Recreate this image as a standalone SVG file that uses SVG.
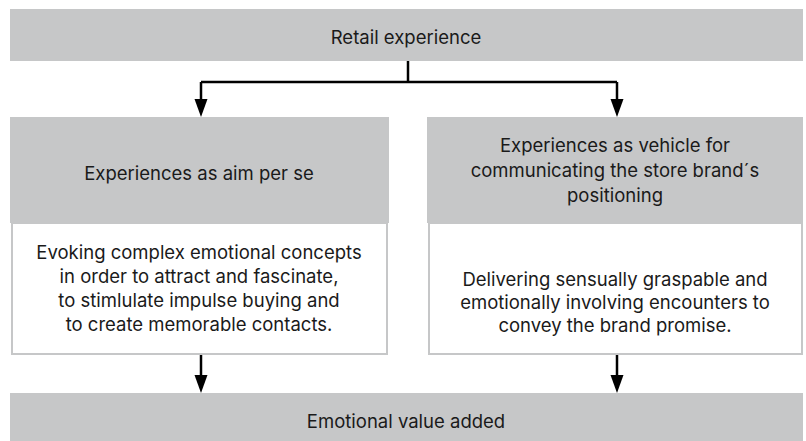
<svg xmlns="http://www.w3.org/2000/svg" width="806" height="441" viewBox="0 0 806 441">
<style>
.g{fill:#c6c7c8}
.w{fill:#ffffff;stroke:#c6c7c8;stroke-width:2}
text{font-family:Inter,"Open Sans","Liberation Sans",sans-serif;font-size:18.5px;fill:#1a1a1a;text-anchor:middle}
.c{fill:none;stroke:#000;stroke-width:2.5}
.h{fill:#000}
</style>
<rect width="806" height="441" fill="#fff"/>
<g id="top">
<rect class="g" x="10" y="9" width="793" height="52"/>
<text x="406" y="44">Retail experience</text>
</g>
<g id="left">
<rect class="g" x="10" y="117" width="379" height="106"/>
<text x="199" y="179.5">Experiences as aim per se</text>
<rect class="w" x="12" y="223" width="375" height="131"/>
<text x="199" y="259">Evoking complex emotional concepts</text>
<text x="199" y="283">in order to attract and fascinate,</text>
<text x="199" y="307">to stimlulate impulse buying and</text>
<text x="199" y="331">to create memorable contacts.</text>
</g>
<g id="right">
<rect class="g" x="427" y="117" width="376" height="106"/>
<text x="615" y="151.5">Experiences as vehicle for</text>
<text x="615" y="176.5">communicating the store brand´s</text>
<text x="615" y="201.5">positioning</text>
<rect class="w" x="429" y="223" width="373" height="131"/>
<text x="615" y="285.5">Delivering sensually graspable and</text>
<text x="615" y="308.5">emotionally involving encounters to</text>
<text x="615" y="331.5">convey the brand promise.</text>
</g>
<g id="bottom">
<rect class="g" x="10" y="393" width="793" height="48"/>
<text x="406" y="427.5">Emotional value added</text>
</g>
<g id="connectors">
<path class="c" d="M408 61 V82"/>
<path class="c" d="M201 82 H617"/>
<path class="c" d="M201 82 V100"/>
<path class="c" d="M617 82 V100"/>
<polygon class="h" points="194.5,99 207.5,99 201,117"/>
<polygon class="h" points="610.5,99 623.5,99 617,117"/>
<path class="c" d="M201 355 V376"/>
<path class="c" d="M617 355 V376"/>
<polygon class="h" points="194.5,375 207.5,375 201,393"/>
<polygon class="h" points="610.5,375 623.5,375 617,393"/>
</g>
</svg>
